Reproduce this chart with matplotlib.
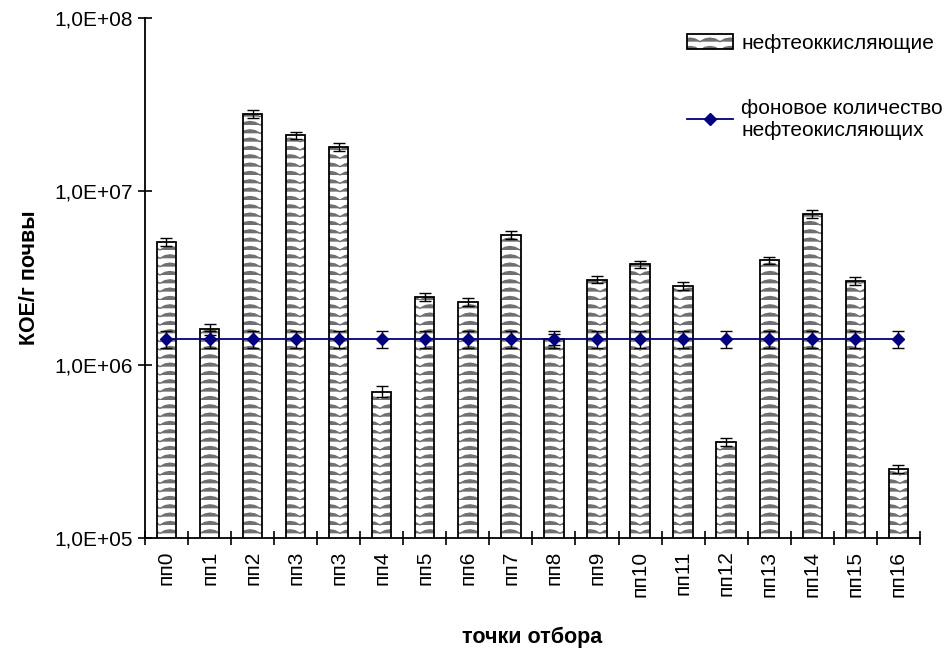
import warnings
import numpy as np
import matplotlib
matplotlib.use('Agg')
import matplotlib.pyplot as plt
import matplotlib.hatch as mhatch
from matplotlib.path import Path
from matplotlib.legend_handler import HandlerTuple
from matplotlib.ticker import FuncFormatter, FixedLocator, NullLocator

warnings.filterwarnings('ignore')

points = ['пп0', 'пп1', 'пп2', 'пп3', 'пп3', 'пп4', 'пп5', 'пп6', 'пп7',
          'пп8', 'пп9', 'пп10', 'пп11', 'пп12', 'пп13', 'пп14', 'пп15', 'пп16']
oxidizers = [5.1e6, 1.6e6, 2.8e7, 2.1e7, 1.8e7, 7.0e5, 2.45e6, 2.3e6, 5.6e6,
             1.4e6, 3.1e6, 3.8e6, 2.85e6, 3.6e5, 4.0e6, 7.4e6, 3.05e6, 2.5e5]
oxidizers_err = [2.6e5, 1.1e5, 1.4e6, 1.0e6, 9.0e5, 5.0e4, 1.3e5, 1.2e5, 2.8e5,
                 1.0e5, 1.6e5, 1.9e5, 1.5e5, 2.0e4, 2.0e5, 3.7e5, 1.6e5, 1.3e4]
background = [1.4e6] * len(points)
background_err = [1.6e5] * len(points)


class WaveHatch(mhatch.HatchPatternBase):
    """Rows of chevron waves, selected with '~' in the hatch string."""
    cols = 5

    def __init__(self, hatch, density):
        self.num_lines = int(hatch.count('~') * density)
        self.num_vertices = self.num_lines * (4 * self.cols + 1)

    def set_vertices_and_codes(self, vertices, codes):
        rows, step = np.linspace(0.0, 1.0, self.num_lines, False, retstep=True)
        n = 4 * self.cols + 1
        xs = np.linspace(0.0, 1.0, n)
        # rounded chevron: low, mid, peak, mid, low ...
        shape = np.array([0.0, 0.32, 0.42, 0.32])
        amp = step * np.resize(shape, n)
        for i, y in enumerate(rows):
            sl = slice(i * n, (i + 1) * n)
            vertices[sl, 0] = xs
            vertices[sl, 1] = y + amp
            codes[sl] = Path.LINETO
            codes[i * n] = Path.MOVETO


mhatch._hatch_types.append(WaveHatch)

plt.rcParams['font.family'] = ['Liberation Sans', 'DejaVu Sans']
plt.rcParams['hatch.linewidth'] = 1.0

fig = plt.figure(figsize=(9.45, 6.52), dpi=100)
ax = fig.add_axes([0.1534, 0.1748, 0.82, 0.7976])

x = np.arange(len(points))
# hatch colour follows the edge colour, so fill and outline are drawn apart
fill = ax.bar(x, oxidizers, width=0.45, color='white', edgecolor='#707070',
              linewidth=0, hatch='~~', zorder=2)
outline = ax.bar(x, oxidizers, width=0.45, fill=False, edgecolor='black',
                 linewidth=1.3, zorder=2.5)
ax.errorbar(x, oxidizers, yerr=oxidizers_err, fmt='none', ecolor='black',
            elinewidth=1.0, capsize=4, capthick=1.0, zorder=3)

ax.errorbar(x, background, yerr=background_err, fmt='none', ecolor='black',
            elinewidth=1.0, capsize=4, capthick=1.0, zorder=4)
line, = ax.plot(x, background, color='#000080', lw=1.3, marker='D',
                markersize=6, markerfacecolor='#000080',
                markeredgecolor='#000080', zorder=5)

ax.set_yscale('log')
ax.set_ylim(1e5, 1e8)
ax.set_xlim(-0.5, len(points) - 0.5)

ax.yaxis.set_major_locator(FixedLocator([1e5, 1e6, 1e7, 1e8]))
ax.yaxis.set_minor_locator(NullLocator())
ax.yaxis.set_major_formatter(FuncFormatter(
    lambda v, p: '1,0E+{:02d}'.format(int(round(np.log10(v))))))
ax.tick_params(axis='y', direction='inout', length=10, width=1.2,
               labelsize=15, pad=4)

ax.set_xticks(x)
ax.set_xticklabels(points, rotation=90, fontsize=15)
ax.set_xticks(np.arange(len(points) + 1) - 0.5, minor=True)
ax.tick_params(axis='x', which='major', length=0, pad=9)
ax.tick_params(axis='x', which='minor', direction='inout', length=10, width=1.2)

for side in ('top', 'right'):
    ax.spines[side].set_visible(False)
for side in ('left', 'bottom'):
    ax.spines[side].set_linewidth(1.3)

ax.set_ylabel('КОЕ/г почвы', fontsize=15.5, fontweight='bold', labelpad=10)
ax.set_xlabel('точки отбора', fontsize=15.5, fontweight='bold', labelpad=22)

fig.legend(handles=[(fill[0], outline[0]), line],
           labels=['нефтеоккисляющие', 'фоновое количество\nнефтеокисляющих'],
           handler_map={tuple: HandlerTuple(ndivide=1)},
           loc='upper left', bbox_to_anchor=(0.727, 0.948), frameon=False,
           fontsize=15, handlelength=2.2, handletextpad=0.4, labelspacing=2.2,
           borderaxespad=0, borderpad=0)

fig.savefig('out.png', dpi=100)
